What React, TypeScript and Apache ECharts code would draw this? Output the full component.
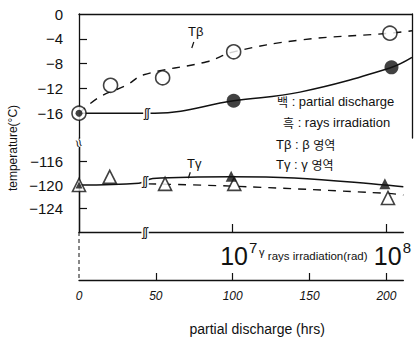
import React, { useEffect, useRef } from "react";
import * as echarts from "echarts";

// ---- data (hours of partial discharge on x, temperature °C on y) ----
// Upper panel (β region)
const betaOpenX = [0, 20, 53, 98, 197];
const betaOpenY = [-16, -11.5, -10.3, -6.1, -3.1];
const betaFilledX = [0, 98, 198];
const betaFilledY = [-16, -14, -8.6];
const betaDashCurveX = [0, 13, 30, 41, 81, 98, 140, 197, 211];
const betaDashCurveY = [-16, -13.4, -11.5, -9.8, -7.7, -6.1, -4.2, -3.1, -2.7];
const betaSolidCurveX = [0, 39, 48, 98, 140, 197, 211];
const betaSolidCurveY = [-16, -16, -16, -14, -12.6, -8.7, -7.0];
// Lower panel (γ region)
const gammaOpenX = [0, 20, 56, 101, 201];
const gammaOpenY = [-120, -118.6, -119.8, -119.8, -122.2];
const gammaFilledX = [0, 99, 199];
const gammaFilledY = [-120, -118.5, -119.8];
const gammaSolidCurveX = [0, 39, 48, 99, 140, 199, 211];
const gammaSolidCurveY = [-120, -119.7, -118.9, -118.6, -118.8, -120, -120.3];
const gammaDashCurveX = [45, 100, 199, 211];
const gammaDashCurveY = [-119.8, -120.2, -121.4, -121.7];

const upperTickLabels = [0, -4, -8, -12, -16];
const lowerTickLabels = [-116, -120, -124];
const hourTicks = [0, 50, 100, 150, 200];
const doseTicks = [100, 200];
const doseExponents = ["7", "8"];

const NARROW = "'Liberation Sans', Arial, sans-serif";
const SANS = "'Liberation Sans', Arial, sans-serif";
const KR = "'Noto Sans CJK KR', sans-serif";

const zip = (xs: number[], ys: number[]) => xs.map((x, i) => [x, ys[i]]);
const minus = (v: number) => String(v).replace("-", "\u2212");

export default function App() {
  const ref = useRef<HTMLDivElement>(null);
  useEffect(() => {
    if (!ref.current) return;
    const chart = echarts.init(ref.current, undefined, { renderer: "svg" });
    const black = "#111";
    const axisLine = { show: true, lineStyle: { color: black, width: 1.3 } };
    const option: any = {
      animation: false,
      backgroundColor: "#fff",
      grid: [
        { left: 79, top: 14, width: 333, height: 124 },
        { left: 79, top: 138, width: 333, height: 94 },
      ],
      xAxis: [
        {
          gridIndex: 0, type: "value", min: 0, max: 211, position: "top",
          axisLine, axisTick: { show: false }, axisLabel: { show: false }, splitLine: { show: false },
        },
        {
          gridIndex: 1, type: "value", min: 0, max: 211, position: "bottom",
          axisLine,
          axisTick: { show: true, inside: true, length: 8, customValues: doseTicks, lineStyle: { color: black, width: 1.2 } },
          axisLabel: {
            show: true, customValues: doseTicks, margin: 8, color: black,
            formatter: (v: number) => `{b|10}{s|${doseExponents[doseTicks.indexOf(v)]}}`,
            rich: {
              b: { fontSize: 25, fontFamily: SANS, color: black, lineHeight: 28, verticalAlign: "bottom", padding: [0, 0, 0, 12] },
              s: { fontSize: 15, fontFamily: SANS, color: black, lineHeight: 28, verticalAlign: "top", padding: [0, 0, 14, 1] },
            },
          },
          splitLine: { show: false },
        },
        {
          gridIndex: 1, type: "value", min: 0, max: 211, position: "bottom", offset: 48,
          axisLine,
          axisTick: { show: true, inside: true, length: 7, customValues: [50, 100, 150, 200], lineStyle: { color: black, width: 1.2 } },
          axisLabel: {
            show: true, customValues: hourTicks, margin: 10, color: black,
            fontSize: 12, fontFamily: NARROW, fontStyle: "italic",
          },
          splitLine: { show: false },
          name: "partial discharge (hrs)", nameLocation: "middle", nameGap: 42,
          nameTextStyle: { color: black, fontSize: 14, fontFamily: NARROW, padding: [0, 0, 0, 32] },
        },
      ],
      yAxis: [
        {
          gridIndex: 0, type: "value", min: -20, max: 0, interval: 4,
          axisLine,
          axisTick: { show: true, inside: true, length: 8, customValues: [-4, -8, -12], lineStyle: { color: black, width: 1.2 } },
          axisLabel: { customValues: upperTickLabels, margin: 16, color: black, fontSize: 15, fontFamily: NARROW, formatter: minus },
          splitLine: { show: false },
        },
        { gridIndex: 0, type: "value", min: -20, max: 0, position: "right", axisLine, axisTick: { show: false }, axisLabel: { show: false }, splitLine: { show: false } },
        {
          gridIndex: 1, type: "value", min: -128, max: -112, interval: 4,
          axisLine,
          axisTick: { show: true, inside: true, length: 8, customValues: [-116, -124], lineStyle: { color: black, width: 1.2 } },
          axisLabel: { customValues: lowerTickLabels, margin: 16, color: black, fontSize: 15, fontFamily: NARROW, formatter: minus },
          splitLine: { show: false },
        },
        { gridIndex: 1, type: "value", min: -128, max: -112, position: "right", axisLine, axisTick: { show: false }, axisLabel: { show: false }, splitLine: { show: false } },
      ],
      series: [
        {
          type: "line", xAxisIndex: 0, yAxisIndex: 0, data: zip(betaDashCurveX, betaDashCurveY),
          smooth: 0.4, symbol: "none", lineStyle: { color: black, width: 1.4, type: [8, 7] }, z: 2,
        },
        {
          type: "line", xAxisIndex: 0, yAxisIndex: 0, data: zip(betaSolidCurveX, betaSolidCurveY),
          smooth: 0.4, symbol: "none", lineStyle: { color: black, width: 1.5 }, z: 2,
        },
        {
          type: "scatter", xAxisIndex: 0, yAxisIndex: 0, data: zip(betaOpenX, betaOpenY),
          symbol: "circle", symbolSize: 14, itemStyle: { color: "#fff", borderColor: black, borderWidth: 1.6 }, z: 3,
        },
        {
          type: "scatter", xAxisIndex: 0, yAxisIndex: 0, data: zip(betaFilledX, betaFilledY),
          symbol: "circle", symbolSize: (_v: any, p: any) => (p.dataIndex === 0 ? 7 : 14),
          itemStyle: { color: black }, z: 4,
        },
        {
          type: "line", xAxisIndex: 1, yAxisIndex: 2, data: zip(gammaDashCurveX, gammaDashCurveY),
          smooth: 0.4, symbol: "none", lineStyle: { color: black, width: 1.4, type: [8, 7] }, z: 2,
        },
        {
          type: "line", xAxisIndex: 1, yAxisIndex: 2, data: zip(gammaSolidCurveX, gammaSolidCurveY),
          smooth: 0.4, symbol: "none", lineStyle: { color: black, width: 1.5 }, z: 2,
        },
        {
          type: "scatter", xAxisIndex: 1, yAxisIndex: 2, data: zip(gammaOpenX, gammaOpenY),
          symbol: "triangle", symbolSize: 13, itemStyle: { color: "#fff", borderColor: black, borderWidth: 1.6 }, z: 3,
        },
        {
          type: "scatter", xAxisIndex: 1, yAxisIndex: 2, data: zip(gammaFilledX, gammaFilledY),
          symbol: "triangle", symbolSize: (_v: any, p: any) => (p.dataIndex === 0 ? 7 : 11),
          itemStyle: { color: black }, z: 4,
        },
      ],
    };
    chart.setOption(option);

    // annotations placed from data coordinates
    const p0 = (x: number, y: number) => chart.convertToPixel({ xAxisIndex: 0, yAxisIndex: 0 }, [x, y]) as number[];
    const p1 = (x: number, y: number) => chart.convertToPixel({ xAxisIndex: 1, yAxisIndex: 2 }, [x, y]) as number[];
    const brkA = p0(43, -16);
    const brkB = p1(43, -119.4);
    const brkC = p1(43, -128);
    const brkY = p1(0, -112);
    const tb = p0(74, -2.9);
    const tg = p1(75, -116.3);
    const breakText = (pos: number[]) => ({
      type: "text", x: pos[0], y: pos[1], z: 100,
      style: {
        text: "ʃʃ", fontSize: 12, fontFamily: SANS, fill: black, align: "center", verticalAlign: "middle",
        backgroundColor: "#fff", padding: [0, 1],
      },
    });
    const legendRow = (x: number, y: number, k: string, rest: string, kFont: string) => ({
      type: "text", x, y, z: 100,
      style: {
        text: `{k|${k}}{t|${rest}}`, verticalAlign: "middle",
        rich: {
          k: { fontFamily: kFont, fontSize: 12, fill: black },
          t: { fontFamily: NARROW, fontSize: 13, fill: black },
        },
      },
    });
    chart.setOption({
      graphic: [
        breakText(brkA), breakText(brkB), breakText(brkC),
        {
          type: "text", x: brkY[0], y: brkY[1] + 5, z: 100, rotation: -Math.PI / 2.6,
          style: { text: "≈", fontSize: 14, fontFamily: SANS, fill: black, align: "center", verticalAlign: "middle", backgroundColor: "#fff" },
        },
        {
          type: "line", z: 1,
          shape: { x1: 79, y1: brkC[1], x2: 79, y2: brkC[1] + 48 },
          style: { stroke: black, lineWidth: 1, lineDash: [4, 3] },
        },
        {
          type: "text", x: tb[0], y: tb[1], z: 100,
          style: { text: "Tβ", fontSize: 13, fontFamily: SANS, fill: black, align: "center", verticalAlign: "middle" },
        },
        { type: "line", z: 100, shape: { x1: tb[0] - 2, y1: tb[1] + 10, x2: tb[0] - 4, y2: tb[1] + 16 }, style: { stroke: black, lineWidth: 1.2 } },
        {
          type: "text", x: tg[0], y: tg[1], z: 100,
          style: { text: "Tγ", fontSize: 13, fontFamily: SANS, fill: black, align: "center", verticalAlign: "middle" },
        },
        { type: "line", z: 100, shape: { x1: tg[0] - 4, y1: tg[1] + 9, x2: tg[0] - 6, y2: tg[1] + 15 }, style: { stroke: black, lineWidth: 1.2 } },
        legendRow(277, 101, "백", " : partial discharge", KR),
        legendRow(283, 122, "흑", " : rays irradiation", KR),
        {
          type: "text", x: 276, y: 144, z: 100,
          style: {
            text: "{t|Tβ : β }{k|영역}", verticalAlign: "middle",
            rich: { t: { fontFamily: SANS, fontSize: 13, fill: black }, k: { fontFamily: KR, fontSize: 12, fill: black } },
          },
        },
        {
          type: "text", x: 276, y: 164, z: 100,
          style: {
            text: "{t|Tγ : γ }{k|영역}", verticalAlign: "middle",
            rich: { t: { fontFamily: SANS, fontSize: 13, fill: black }, k: { fontFamily: KR, fontSize: 12, fill: black } },
          },
        },
        {
          type: "text", x: 259, y: 256, z: 100,
          style: {
            text: "{g|γ} {t|rays irradiation(rad)}", verticalAlign: "middle",
            rich: {
              g: { fontFamily: SANS, fontSize: 11, fill: black, padding: [0, 0, 8, 0] },
              t: { fontFamily: NARROW, fontSize: 11.5, fill: black },
            },
          },
        },
        {
          type: "text", x: 13, y: 148, z: 100, rotation: Math.PI / 2,
          style: { text: "temperature(°C)", fontFamily: NARROW, fontSize: 12, fill: black, align: "center", verticalAlign: "middle" },
        },
      ],
    });
    return () => chart.dispose();
  }, []);
  return <div ref={ref} style={{ position: "fixed", left: 0, top: 0, width: 414, height: 339, background: "#fff" }} />;
}
